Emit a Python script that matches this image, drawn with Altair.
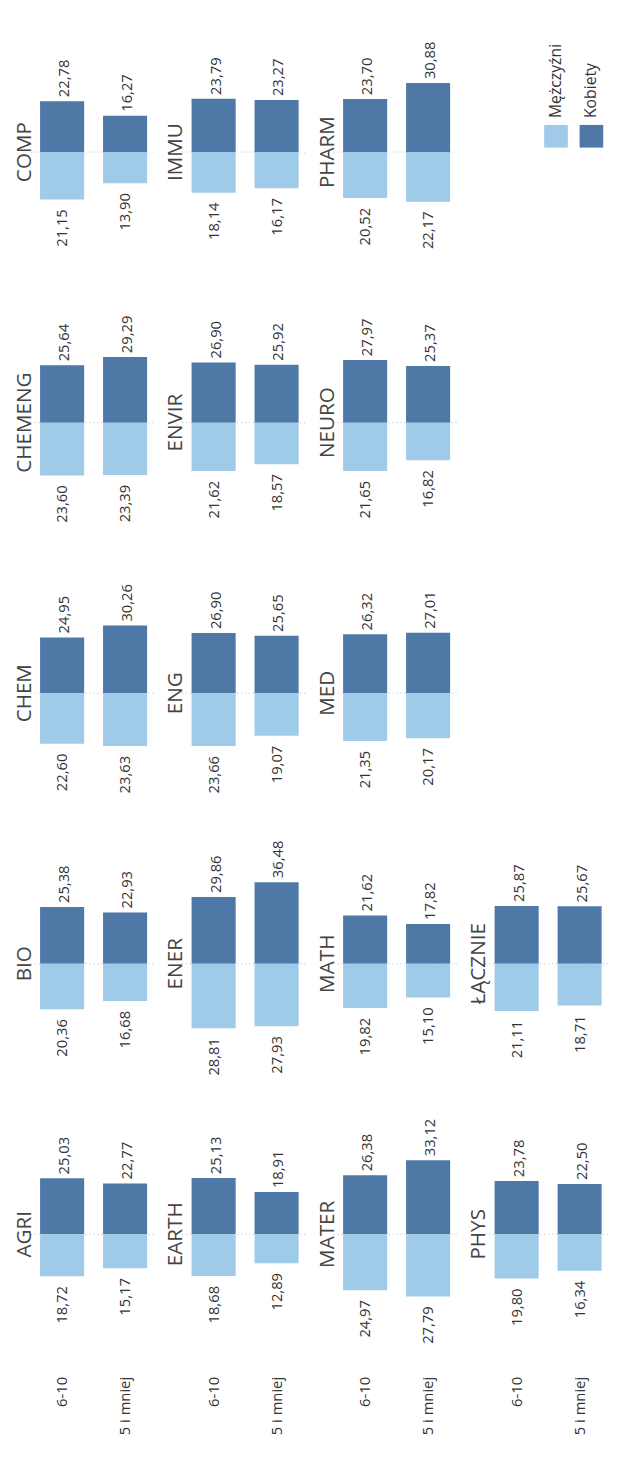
import altair as alt
import pandas as pd

panels = ["COMP","CHEMENG","CHEM","BIO","AGRI",
          "IMMU","ENVIR","ENG","ENER","EARTH",
          "PHARM","NEURO","MED","MATH","MATER",
          "ŁĄCZNIE","PHYS"]
cols = [1,1,1,1,1, 2,2,2,2,2, 3,3,3,3,3, 4,4]
rows = [1,2,3,4,5, 1,2,3,4,5, 1,2,3,4,5, 4,5]
# Kobiety values: [6-10, 5 i mniej]
kob = [[22.78,16.27],[25.64,29.29],[24.95,30.26],[25.38,22.93],[25.03,22.77],
       [23.79,23.27],[26.90,25.92],[26.90,25.65],[29.86,36.48],[25.13,18.91],
       [23.70,30.88],[27.97,25.37],[26.32,27.01],[21.62,17.82],[26.38,33.12],
       [25.87,25.67],[23.78,22.50]]
mez = [[21.15,13.90],[23.60,23.39],[22.60,23.63],[20.36,16.68],[18.72,15.17],
       [18.14,16.17],[21.62,18.57],[23.66,19.07],[28.81,27.93],[18.68,12.89],
       [20.52,22.17],[21.65,16.82],[21.35,20.17],[19.82,15.10],[24.97,27.79],
       [21.11,18.71],[19.80,16.34]]
groups = ["6-10", "5 i mniej"]
sexes = ["Mężczyźni", "Kobiety"]
colors = ["#a0cbe8", "#4e79a7"]

recs = []
for p, c, r, kv, mv in zip(panels, cols, rows, kob, mez):
    recs.append(dict(kind="title", panel=p, col=c, row=r, group="", sex="", v=0.0, lab=p))
    for g, k, m in zip(groups, kv, mv):
        recs.append(dict(kind="bar", panel=p, col=c, row=r, group=g, sex="Kobiety",
                         v=k, lab=f"{k:.2f}".replace(".", ",")))
        recs.append(dict(kind="bar", panel=p, col=c, row=r, group=g, sex="Mężczyźni",
                         v=-m, lab=f"{m:.2f}".replace(".", ",")))
for s in sexes:
    recs.append(dict(kind="legend", panel="", col=4, row=1, group="", sex=s, v=0.0, lab=s))
df = pd.DataFrame(recs)

font = "Open Sans"
W = 128
yscale = alt.Scale(domain=[-60, 57], nice=False, zero=False)
xenc = alt.X("group:N", sort=groups,
             scale=alt.Scale(paddingInner=0.3, paddingOuter=0.15),
             axis=alt.Axis(title=None, labelAngle=270, domain=False, ticks=False,
                           labelFontSize=15, labelColor="#333", labelFont=font,
                           labelPadding=8))
yenc = alt.Y("v:Q", scale=yscale, axis=None)
cenc = alt.Color("sex:N", scale=alt.Scale(domain=sexes, range=colors), legend=None)

rule = alt.Chart().transform_filter("datum.kind=='title'").mark_rule(
    color="#bbb", strokeDash=[1, 3]).encode(
    y=yenc, x=alt.value(0), x2=alt.value(W), detail="panel:N")
bars = alt.Chart().transform_filter("datum.kind=='bar'").mark_bar().encode(
    x=xenc, y=yenc, color=cenc)
tk = alt.Chart().transform_filter("datum.kind=='bar' && datum.v>0").mark_text(
    angle=270, align="left", baseline="middle", dx=4, dy=2, fontSize=15,
    font=font, color="#333").encode(x=xenc, y=yenc, text="lab:N")
tm = alt.Chart().transform_filter("datum.kind=='bar' && datum.v<0").mark_text(
    angle=270, align="right", baseline="middle", dx=-10, fontSize=15,
    font=font, color="#333").encode(x=xenc, y=yenc, text="lab:N")
titles = alt.Chart().transform_filter("datum.kind=='title'").mark_text(
    angle=270, align="center", baseline="middle", fontSize=21, font=font,
    color="#444").encode(x=alt.value(-6), y=yenc, text="lab:N")

leg = []
for s, px in zip(sexes, [72, 108]):
    f = f"datum.kind=='legend' && datum.sex=='{s}'"
    leg.append(alt.Chart().transform_filter(f).mark_rect(size=1).encode(
        x=alt.value(px - 12), x2=alt.value(px + 12),
        y=alt.value(102), y2=alt.value(125), color=cenc))
    leg.append(alt.Chart().transform_filter(f).mark_text(
        angle=270, align="left", baseline="middle", fontSize=16, font=font,
        color="#333").encode(x=alt.value(px), y=alt.value(95), text="lab:N"))

chart = alt.layer(rule, bars, tk, tm, titles, *leg).properties(
    width=W, height=266).facet(
    row=alt.Row("row:O", header=None),
    column=alt.Column("col:O", header=None),
    data=df, spacing={"row": 9, "column": 26}, bounds="flush"
).configure_view(stroke=None)

chart.save("out.html", embed_options={"renderer": "svg", "actions": False})
